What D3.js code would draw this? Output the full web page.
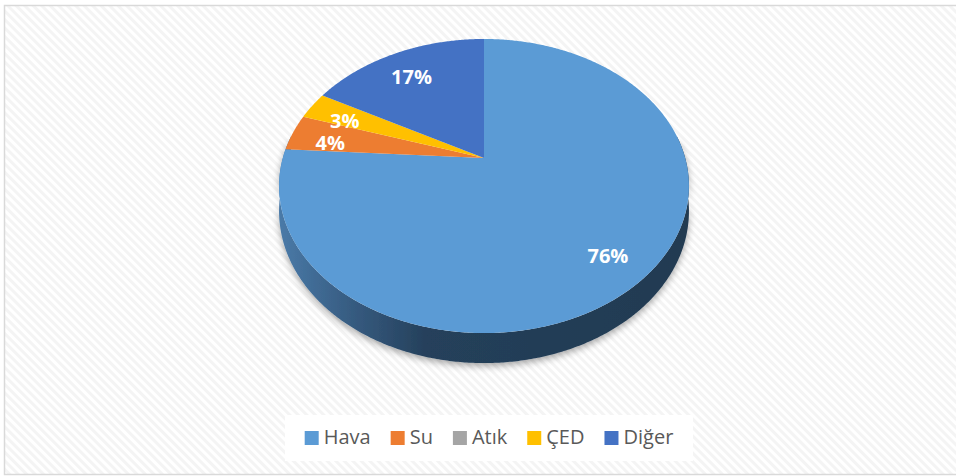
<!DOCTYPE html>
<html>
<head>
<meta charset="utf-8">
<script src="https://cdn.jsdelivr.net/npm/d3@7"></script>
<style>
  html, body { margin: 0; padding: 0; background: #ffffff; }
  svg { display: block; }
</style>
</head>
<body>
<svg id="chart" width="956" height="476"></svg>
<script>
// Share of items by topic
const categories = ["Hava", "Su", "Atık", "ÇED", "Diğer"];
const values = [76, 4, 0, 3, 17];
const colors = ["#5b9bd5", "#ed7d31", "#a5a5a5", "#ffc000", "#4472c4"];

const W = 956, H = 476;
const svg = d3.select("#chart");
const defs = svg.append("defs");

// Diagonal hatched chart-area background
const pat = defs.append("pattern")
  .attr("id", "hatch").attr("patternUnits", "userSpaceOnUse")
  .attr("width", 6).attr("height", 6)
  .attr("patternTransform", "rotate(-45)");
pat.append("rect").attr("width", 6).attr("height", 6).attr("fill", "#ffffff");
pat.append("rect").attr("width", 3).attr("height", 6).attr("fill", "#f4f4f4");

svg.append("rect")
  .attr("x", 4.5).attr("y", 5.5).attr("width", 960).attr("height", 469)
  .attr("fill", "url(#hatch)").attr("stroke", "#d9d9d9").attr("stroke-width", 1.5);

// Perspective projection of the tilted pie disc
const cx = 484, cy = 158, sx = 201.2, sy = 141.7, k = 0.1905, depth = 24.3;
function proj(theta, r) {
  const w = 1 + k * r * Math.cos(theta);
  return [cx + sx * r * Math.sin(theta) / w, cy - sy * r * Math.cos(theta) / w];
}
function drop(theta) {
  const p = proj(theta, 1);
  return [p[0], p[1] + depth / (1 + k * Math.cos(theta))];
}
function arcPoints(a0, a1, fn) {
  const n = Math.max(2, Math.ceil(Math.abs(a1 - a0) / (Math.PI / 360)));
  return d3.range(n + 1).map(i => fn(a0 + (a1 - a0) * i / n));
}
const line = d3.line();

const pie = d3.pie().sort(null).value(d => d)(values);

// Side gradient
const grad = defs.append("linearGradient").attr("id", "side")
  .attr("gradientUnits", "userSpaceOnUse")
  .attr("x1", cx - sx * 1.02).attr("x2", cx + sx * 1.02).attr("y1", 0).attr("y2", 0);
[[0, "#4a7aa8"], [0.18, "#365b80"], [0.36, "#25405b"], [1, "#213a51"]]
  .forEach(([o, c]) => grad.append("stop").attr("offset", o).attr("stop-color", c));

// Soft shadow under the disc
const shadow = defs.append("filter").attr("id", "shadow")
  .attr("x", "-10%").attr("y", "-10%").attr("width", "120%").attr("height", "130%");
shadow.append("feGaussianBlur").attr("in", "SourceAlpha").attr("stdDeviation", 3.5);
shadow.append("feOffset").attr("dx", 0).attr("dy", 3).attr("result", "b");
shadow.append("feComponentTransfer").append("feFuncA").attr("type", "linear").attr("slope", 0.35);
const merge = shadow.append("feMerge");
merge.append("feMergeNode");
merge.append("feMergeNode").attr("in", "SourceGraphic");

const g = svg.append("g");

// Outer wall (front half)
const a0 = Math.PI * 0.45, a1 = Math.PI * 1.55;
const sidePts = arcPoints(a0, a1, t => proj(t, 1))
  .concat(arcPoints(a1, a0, drop));
g.append("path")
  .attr("d", line(sidePts) + "Z")
  .attr("fill", "url(#side)")
  .attr("filter", "url(#shadow)");

// Top faces
g.selectAll("path.slice")
  .data(pie.filter(d => d.endAngle > d.startAngle))
  .join("path")
  .attr("class", "slice")
  .attr("d", d => line([proj(0, 0)].concat(arcPoints(d.startAngle, d.endAngle, t => proj(t, 1)))) + "Z")
  .attr("fill", d => colors[d.index]);

// Percentage labels
const total = d3.sum(values);
g.selectAll("text.lbl")
  .data(pie.filter(d => d.value > 0))
  .join("text")
  .attr("class", "lbl")
  .attr("x", d => proj((d.startAngle + d.endAngle) / 2, 0.8)[0])
  .attr("y", d => proj((d.startAngle + d.endAngle) / 2, 0.8)[1] + 5)
  .attr("text-anchor", "middle")
  .attr("dominant-baseline", "central")
  .attr("font-family", "'Open Sans', sans-serif")
  .attr("font-weight", 700)
  .attr("font-size", 20)
  .attr("fill", "#ffffff")
  .text(d => Math.round(d.value / total * 100) + "%");

// Legend
svg.append("rect")
  .attr("x", 285).attr("y", 415).attr("width", 408).attr("height", 46)
  .attr("fill", "#ffffff");
const leg = svg.append("g");
const items = leg.selectAll("g").data(categories).join("g");
items.append("rect").attr("width", 14).attr("height", 14).attr("y", -13)
  .attr("fill", (d, i) => colors[i]);
items.append("text").attr("x", 19).attr("y", 0)
  .attr("font-family", "'Open Sans', sans-serif")
  .attr("font-size", 20).attr("fill", "#595959")
  .text(d => d);
let xpos = 0;
items.each(function () {
  const t = d3.select(this).select("text").node().getComputedTextLength();
  d3.select(this).attr("transform", `translate(${xpos},444)`);
  xpos += 19 + t + 20;
});
const legW = xpos - 20;
leg.attr("transform", `translate(${489 - legW / 2},0)`);
</script>
</body>
</html>
